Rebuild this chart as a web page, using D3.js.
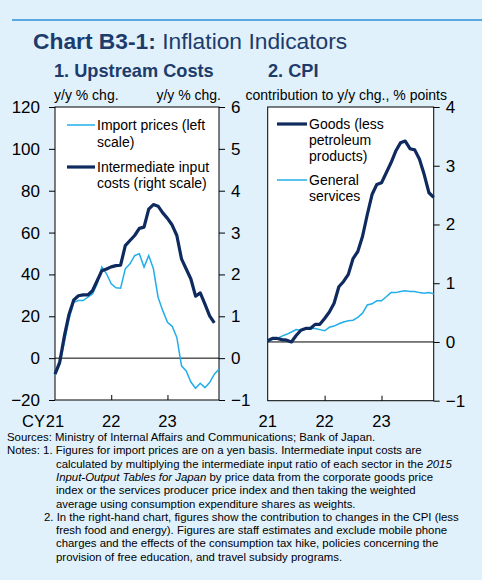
<!DOCTYPE html>
<html><head><meta charset="utf-8">
<script src="https://cdn.jsdelivr.net/npm/d3@7"></script>
<style>
body{margin:0;padding:0;background:#e0f1fc;}
svg{display:block;font-family:"Liberation Sans",Arial,sans-serif;}
</style></head>
<body>
<svg id="chart" width="482" height="580"></svg>
<script>
// ---------------- DATA ----------------
const months = d3.range(36); // Jan 2021 .. Dec 2023
const yearTicks = [0, 12, 24];
const yearLabels = ["21", "22", "23"];

// Panel 1 : Upstream costs
const importPrices = [-8,-3,7.5,18.7,26.7,27.5,27.5,29.1,30.7,35.5,43.5,40.3,35.5,33.6,33.4,42.7,45.1,49,49.9,43.5,49,42.7,29.1,22.7,17.1,15.2,9.9,-3.7,-6.1,-11.4,-14.4,-12,-14.1,-11.7,-7.7,-5.3];
const intermediateCosts = [-0.38,-0.1,0.53,1.05,1.39,1.49,1.51,1.51,1.61,1.85,2.09,2.13,2.18,2.21,2.22,2.69,2.81,2.93,3.1,3.13,3.56,3.67,3.63,3.47,3.34,3.18,2.93,2.37,2.13,1.89,1.48,1.56,1.29,1.01,0.84];
const leftTicks = [-20,0,20,40,60,80,100,120];
const rightTicks1 = [-1,0,1,2,3,4,5,6];

// Panel 2 : CPI contributions
const goods = [0.02,0.06,0.06,0.04,0.03,0.0,0.11,0.2,0.23,0.23,0.3,0.3,0.4,0.51,0.66,0.94,1.03,1.15,1.42,1.54,1.8,2.17,2.51,2.68,2.71,2.88,3.05,3.25,3.39,3.42,3.29,3.27,3.11,2.85,2.54,2.46];
const services = [0.02,0.04,0.06,0.1,0.13,0.17,0.21,0.2,0.22,0.23,0.23,0.21,0.19,0.25,0.27,0.31,0.34,0.36,0.37,0.42,0.49,0.63,0.65,0.7,0.7,0.77,0.84,0.84,0.86,0.87,0.86,0.86,0.84,0.83,0.84,0.82];
const rightTicks2 = [-1,0,1,2,3,4];

const DARK = "#0f2a5f", LIGHT = "#22aeea", TITLE = "#1d3b6b";

const svg = d3.select("#chart");
svg.append("rect").attr("width",482).attr("height",580).attr("fill","#e0f1fc");
svg.append("line").attr("x1",12).attr("x2",482).attr("y1",20).attr("y2",20)
  .attr("stroke","#2b8fd8").attr("stroke-width",1.5);

const title = svg.append("text").attr("x",33).attr("y",49).attr("font-size",22.8).attr("fill",TITLE);
title.append("tspan").attr("font-weight","bold").text("Chart B3-1:");
title.append("tspan").text(" Inflation Indicators");

svg.append("text").attr("x",54).attr("y",77).attr("font-size",18.2).attr("font-weight","bold")
  .attr("fill",TITLE).text("1. Upstream Costs");
svg.append("text").attr("x",268).attr("y",77).attr("font-size",18.2).attr("font-weight","bold")
  .attr("fill",TITLE).text("2. CPI");

svg.append("text").attr("x",54).attr("y",100).attr("font-size",14).text("y/y % chg.");
svg.append("text").attr("x",221).attr("y",100).attr("font-size",14).attr("text-anchor","end").text("y/y % chg.");
svg.append("text").attr("x",447).attr("y",100).attr("font-size",14).attr("text-anchor","end").text("contribution to y/y chg., % points");

function styleAxis(g){
  g.select(".domain").remove();
  g.selectAll(".tick line").attr("stroke","#000");
  g.selectAll(".tick text").attr("font-size",17).attr("fill","#000")
   .attr("font-family","'Liberation Sans',Arial,sans-serif");
}

// ---------- Panel 1 ----------
const x1 = d3.scaleLinear().domain([0,35]).range([55,219]);
const yL = d3.scaleLinear().domain([-20,120]).range([400,107]);
const yR1 = d3.scaleLinear().domain([-1,6]).range([400,107]);

svg.append("rect").attr("x",55).attr("y",107).attr("width",164).attr("height",293)
  .attr("fill","#fff").attr("stroke","#000").attr("stroke-width",1);

svg.append("g").attr("transform","translate(55,0)")
  .call(d3.axisLeft(yL).tickValues(leftTicks).tickSize(6).tickPadding(9).tickFormat(d3.format("d")))
  .call(styleAxis);
svg.append("g").attr("transform","translate(219,0)")
  .call(d3.axisRight(yR1).tickValues(rightTicks1).tickSize(6).tickPadding(6).tickFormat(d3.format("d")))
  .call(styleAxis);
svg.append("g").attr("transform","translate(0,400)")
  .call(d3.axisBottom(x1).tickValues([12,24]).tickSize(-5).tickFormat(""))
  .call(styleAxis);

svg.append("line").attr("x1",55).attr("x2",219).attr("y1",yL(0)).attr("y2",yL(0)).attr("stroke","#000").attr("stroke-width",1);

svg.append("path").datum(importPrices)
  .attr("d",d3.line().x((d,i)=>x1(i)).y(d=>yL(d)))
  .attr("fill","none").attr("stroke",LIGHT).attr("stroke-width",1.5);
svg.append("path").datum(intermediateCosts)
  .attr("d",d3.line().x((d,i)=>x1(i)).y(d=>yR1(d)))
  .attr("fill","none").attr("stroke",DARK).attr("stroke-width",3.2).attr("stroke-linejoin","round");

yearTicks.forEach((t,k)=>{
  svg.append("text").attr("x",x1(t)).attr("y",427).attr("font-size",16.5).attr("text-anchor","middle").text(yearLabels[k]);
});
svg.append("text").attr("x",x1(0)-10).attr("y",427).attr("font-size",16.5).attr("text-anchor","end").text("CY");

// legend 1
svg.append("line").attr("x1",67).attr("x2",95).attr("y1",125).attr("y2",125).attr("stroke",LIGHT).attr("stroke-width",1.5);
svg.append("text").attr("x",97).attr("y",130).attr("font-size",14).text("Import prices (left");
svg.append("text").attr("x",97).attr("y",147).attr("font-size",14).text("scale)");
svg.append("line").attr("x1",67).attr("x2",95).attr("y1",167).attr("y2",167).attr("stroke",DARK).attr("stroke-width",3.2);
svg.append("text").attr("x",97).attr("y",172).attr("font-size",14).text("Intermediate input");
svg.append("text").attr("x",97).attr("y",188).attr("font-size",14).text("costs (right scale)");

// ---------- Panel 2 ----------
const x2 = d3.scaleLinear().domain([0,35]).range([267.7,433.7]);
const y2 = d3.scaleLinear().domain([-1,4]).range([400.7,107]);

svg.append("rect").attr("x",267.7).attr("y",107).attr("width",166).attr("height",293.7)
  .attr("fill","#fff").attr("stroke","#000").attr("stroke-width",1);
svg.append("g").attr("transform","translate(433.7,0)")
  .call(d3.axisRight(y2).tickValues(rightTicks2).tickSize(6).tickPadding(6).tickFormat(d3.format("d")))
  .call(styleAxis);
svg.append("g").attr("transform","translate(0,400.7)")
  .call(d3.axisBottom(x2).tickValues([12,24]).tickSize(-5).tickFormat(""))
  .call(styleAxis);
svg.append("line").attr("x1",267.7).attr("x2",433.7).attr("y1",y2(0)).attr("y2",y2(0)).attr("stroke","#000").attr("stroke-width",1);

svg.append("path").datum(services)
  .attr("d",d3.line().x((d,i)=>x2(i)).y(d=>y2(d)))
  .attr("fill","none").attr("stroke",LIGHT).attr("stroke-width",1.5);
svg.append("path").datum(goods)
  .attr("d",d3.line().x((d,i)=>x2(i)).y(d=>y2(d)))
  .attr("fill","none").attr("stroke",DARK).attr("stroke-width",3.2).attr("stroke-linejoin","round");

yearTicks.forEach((t,k)=>{
  svg.append("text").attr("x",x2(t)).attr("y",427).attr("font-size",16.5).attr("text-anchor","middle").text(yearLabels[k]);
});

// legend 2
svg.append("line").attr("x1",277).attr("x2",307).attr("y1",124).attr("y2",124).attr("stroke",DARK).attr("stroke-width",3.2);
svg.append("text").attr("x",309).attr("y",129).attr("font-size",14).text("Goods (less");
svg.append("text").attr("x",309).attr("y",145).attr("font-size",14).text("petroleum");
svg.append("text").attr("x",309).attr("y",161).attr("font-size",14).text("products)");
svg.append("line").attr("x1",277).attr("x2",307).attr("y1",180).attr("y2",180).attr("stroke",LIGHT).attr("stroke-width",1.5);
svg.append("text").attr("x",309).attr("y",185).attr("font-size",14).text("General");
svg.append("text").attr("x",309).attr("y",201).attr("font-size",14).text("services");

// ---------- Notes ----------
const fs = 11.4;
const notes = [
  {x:7, y:441, parts:[["Sources: Ministry of Internal Affairs and Communications; Bank of Japan.",0]]},
  {x:7, y:454.3, parts:[["Notes: 1. Figures for import prices are on a yen basis. Intermediate input costs are",0]]},
  {x:56, y:467.6, parts:[["calculated by multiplying the intermediate input ratio of each sector in the ",0],["2015",1]]},
  {x:56, y:480.9, parts:[["Input-Output Tables for Japan",1],[" by price data from the corporate goods price",0]]},
  {x:56, y:494.2, parts:[["index or the services producer price index and then taking the weighted",0]]},
  {x:56, y:507.5, parts:[["average using consumption expenditure shares as weights.",0]]},
  {x:44, y:520.8, parts:[["2. In the right-hand chart, figures show the contribution to changes in the CPI (less",0]]},
  {x:56, y:534.1, parts:[["fresh food and energy). Figures are staff estimates and exclude mobile phone",0]]},
  {x:56, y:547.4, parts:[["charges and the effects of the consumption tax hike, policies concerning the",0]]},
  {x:56, y:560.7, parts:[["provision of free education, and travel subsidy programs.",0]]}
];
notes.forEach(n=>{
  const t = svg.append("text").attr("x",n.x).attr("y",n.y).attr("font-size",fs).attr("fill","#000");
  n.parts.forEach(p=>t.append("tspan").attr("font-style",p[1]?"italic":"normal").text(p[0]));
});
</script>
</body></html>
